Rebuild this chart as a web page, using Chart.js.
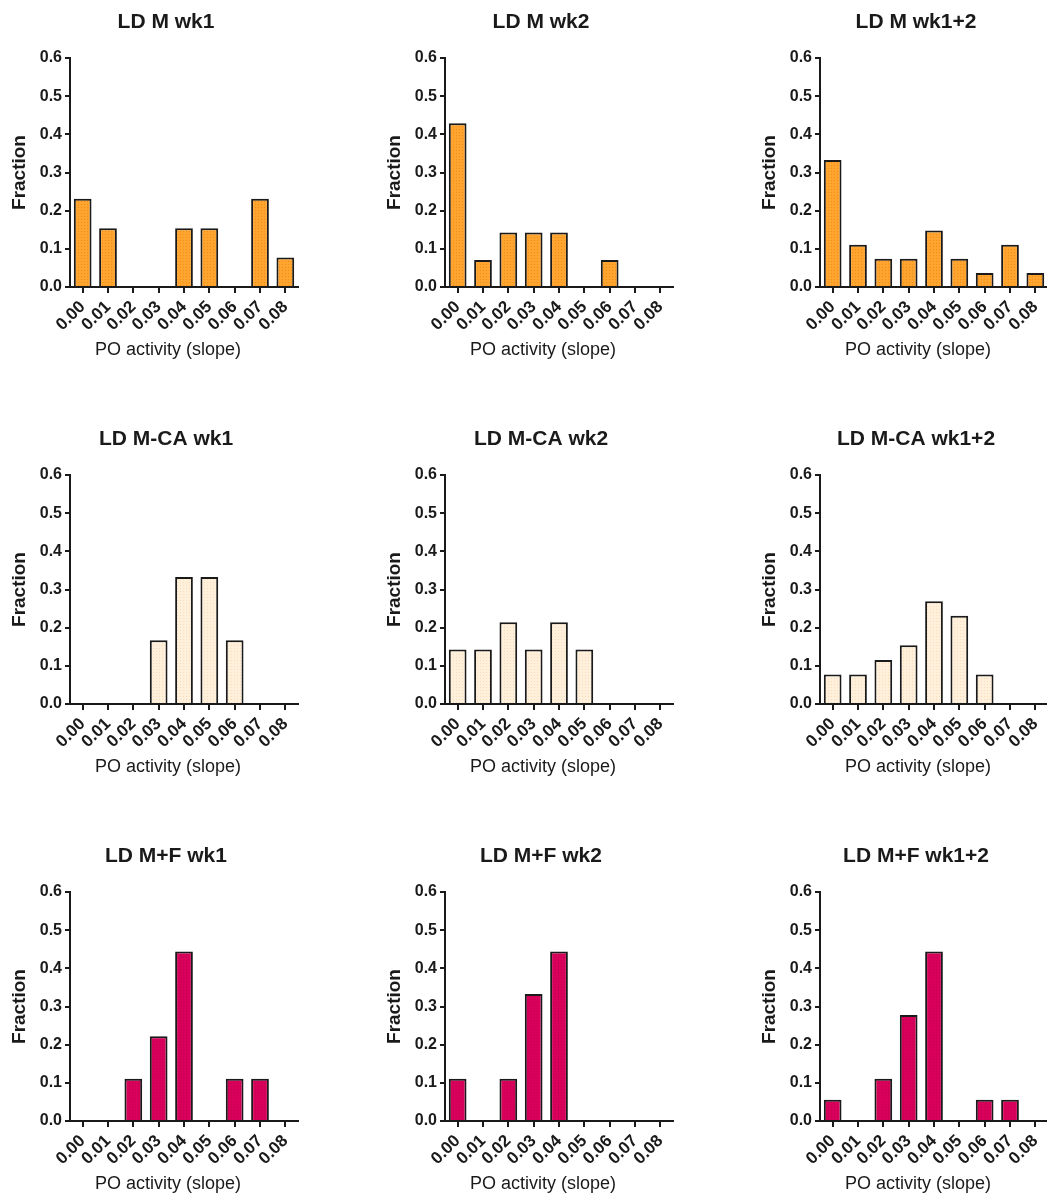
<!DOCTYPE html>
<html>
<head>
<meta charset="utf-8">
<script src="https://cdn.jsdelivr.net/npm/chart.js@4/dist/chart.umd.min.js"></script>
<style>
  body { margin: 0; background: #fff; }
  #wrap { position: relative; width: 1047px; height: 1193px; overflow: hidden; }
  canvas { position: absolute; }
</style>
</head>
<body>
<div id="wrap"></div>
<script>
// bins of PO activity (slope)
const slopeBins = ['0.00', '0.01', '0.02', '0.03', '0.04', '0.05', '0.06', '0.07', '0.08'];
const yTicks = [0.0, 0.1, 0.2, 0.3, 0.4, 0.5, 0.6];

const panelTitles = [
  'LD M wk1', 'LD M wk2', 'LD M wk1+2',
  'LD M-CA wk1', 'LD M-CA wk2', 'LD M-CA wk1+2',
  'LD M+F wk1', 'LD M+F wk2', 'LD M+F wk1+2'
];

// fraction values per panel
const mWk1 = [0.231, 0.154, 0, 0, 0.154, 0.154, 0, 0.231, 0.077];
const mWk2 = [0.429, 0.071, 0.143, 0.143, 0.143, 0, 0.071, 0, 0];
const mWk12 = [0.333, 0.111, 0.074, 0.074, 0.148, 0.074, 0.037, 0.111, 0.037];
const mcaWk1 = [0, 0, 0, 0.167, 0.333, 0.333, 0.167, 0, 0];
const mcaWk2 = [0.143, 0.143, 0.214, 0.143, 0.214, 0.143, 0, 0, 0];
const mcaWk12 = [0.077, 0.077, 0.115, 0.154, 0.269, 0.231, 0.077, 0, 0];
const mfWk1 = [0, 0, 0.111, 0.222, 0.444, 0, 0.111, 0.111, 0];
const mfWk2 = [0.111, 0, 0.111, 0.333, 0.444, 0, 0, 0, 0];
const mfWk12 = [0.056, 0, 0.111, 0.278, 0.444, 0, 0.056, 0.056, 0];

const panelData = [mWk1, mWk2, mWk12, mcaWk1, mcaWk2, mcaWk12, mfWk1, mfWk2, mfWk12];

// dotted fill like the original
function dotPattern(base, dot) {
  const c = document.createElement('canvas');
  c.width = 3; c.height = 3;
  const g = c.getContext('2d');
  g.fillStyle = base;
  g.fillRect(0, 0, 3, 3);
  g.fillStyle = dot;
  g.fillRect(0, 0, 1, 1);
  return g.createPattern(c, 'repeat');
}

const rowFills = [
  dotPattern('#ffa42e', '#f08e1a'),
  dotPattern('#fff0dc', '#f8dcbc'),
  dotPattern('#d8005a', '#c0004e')
];

const ink = '#1a1a1a';
const fontFam = '"Liberation Sans", Arial, sans-serif';

const panelText = {
  id: 'panelText',
  afterDraw(chart, args, opts) {
    const ctx = chart.ctx;
    const a = chart.chartArea;
    ctx.save();
    ctx.fillStyle = ink;
    ctx.textAlign = 'center';
    ctx.textBaseline = 'middle';
    ctx.font = 'bold 21px ' + fontFam;
    ctx.fillText(opts.title, a.left + 96, 22);
    ctx.font = '18px ' + fontFam;
    ctx.fillText('PO activity (slope)', a.left + 98, a.bottom + 63);
    ctx.restore();
  }
};

const wrap = document.getElementById('wrap');

panelData.forEach((vals, i) => {
  const col = i % 3, row = Math.floor(i / 3);
  const cv = document.createElement('canvas');
  cv.width = 332; cv.height = 380;
  cv.style.left = (col * 375) + 'px';
  cv.style.top = (row * 417) + 'px';
  wrap.appendChild(cv);

  new Chart(cv.getContext('2d'), {
    type: 'bar',
    data: {
      labels: slopeBins,
      datasets: [{
        data: vals,
        backgroundColor: rowFills[row],
        borderColor: ink,
        borderWidth: 2,
        borderSkipped: 'bottom',
        barPercentage: 0.7,
        categoryPercentage: 1
      }]
    },
    options: {
      responsive: false,
      animation: false,
      devicePixelRatio: 1,
      layout: { padding: { top: 58, right: 34, left: 0, bottom: 0 } },
      plugins: {
        legend: { display: false },
        tooltip: { enabled: false },
        panelText: { title: panelTitles[i] }
      },
      scales: {
        x: {
          offset: true,
          grid: { display: true, offset: false, drawOnChartArea: false, drawTicks: true, tickLength: 6, lineWidth: 2, color: ink },
          border: { display: true, width: 2, color: ink },
          ticks: {
            autoSkip: false,
            minRotation: 45, maxRotation: 45, padding: 4,
            color: ink,
            font: { family: fontFam, size: 17, weight: 'bold' }
          },
          afterFit(s) { s.height = 380 - 287; }
        },
        y: {
          min: 0, max: 0.6,
          afterBuildTicks(s) { s.ticks = yTicks.map(v => ({ value: v })); },
          grid: { display: true, drawOnChartArea: false, drawTicks: true, tickLength: 5, lineWidth: 2, color: ink },
          border: { display: true, width: 2, color: ink },
          ticks: {
            padding: 3,
            color: ink,
            font: { family: fontFam, size: 16, weight: 'bold' },
            callback: v => v.toFixed(1)
          },
          title: {
            display: true,
            text: 'Fraction',
            color: ink,
            padding: { top: 8, bottom: 0 },
            font: { family: fontFam, size: 19, weight: 'bold' }
          },
          afterFit(s) { s.width = 70; }
        }
      }
    },
    plugins: [panelText]
  });
});
</script>
</body>
</html>
